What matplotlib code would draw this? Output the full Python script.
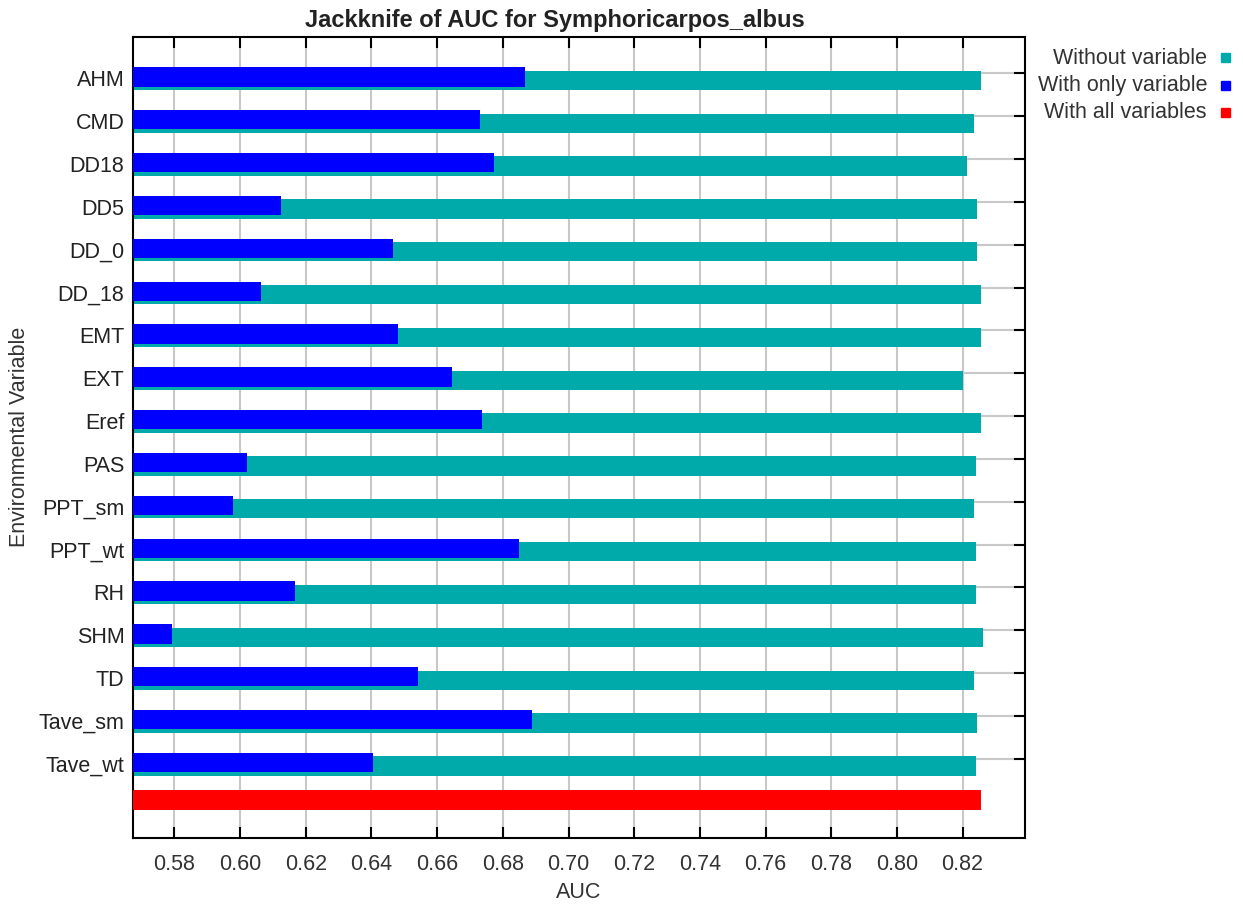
import matplotlib.pyplot as plt
import numpy as np

plt.rcParams['font.family'] = ['Liberation Sans', 'DejaVu Sans']

# Jackknife results (AUC) per environmental variable
variables = ["AHM", "CMD", "DD18", "DD5", "DD_0", "DD_18", "EMT", "EXT", "Eref",
             "PAS", "PPT_sm", "PPT_wt", "RH", "SHM", "TD", "Tave_sm", "Tave_wt"]
without_var = [0.8256, 0.8234, 0.8212, 0.8245, 0.8245, 0.8256, 0.8256, 0.8202, 0.8256,
               0.8241, 0.8234, 0.8241, 0.8241, 0.8261, 0.8234, 0.8245, 0.8241]
only_var = [0.6867, 0.6731, 0.6774, 0.6123, 0.6465, 0.6063, 0.6482, 0.6644, 0.6737,
            0.6020, 0.5977, 0.6850, 0.6167, 0.5792, 0.6541, 0.6888, 0.6405]
all_vars = 0.8256

xticks = [0.58, 0.60, 0.62, 0.64, 0.66, 0.68, 0.70, 0.72, 0.74, 0.76, 0.78, 0.80, 0.82]

teal = "#00AAAA"
blue = "#0000FF"
red = "#FF0000"

fig = plt.figure(figsize=(12.43, 9.05), dpi=100)
ax = fig.add_axes([0.1068, 0.0744, 0.7178, 0.8847])

rows = np.arange(len(variables))
bar_h = 0.45
ax.barh(rows + 0.165, without_var, height=bar_h, color=teal, zorder=2)
ax.barh(rows + 0.085, only_var, height=bar_h, color=blue, zorder=3)
ax.barh([len(variables) - 0.04], [all_vars], height=bar_h, color=red, zorder=3)

ax.set_xlim(0.5673, 0.839)
ax.set_ylim(17.84, -0.847)

ax.set_xticks(xticks)
ax.set_xticklabels([f"{t:.2f}" for t in xticks])
ax.set_yticks(rows)
ax.set_yticks(rows + 0.11, minor=True)
ax.set_yticklabels([], minor=False)
ax.set_yticklabels(variables, minor=True)

ax.grid(True, which="major", color="#c8c8c8", linewidth=1.5, zorder=0)
ax.set_axisbelow(True)

ax.tick_params(axis="x", which="major", direction="in", length=8, width=1.5,
               top=True, bottom=True, labelsize=15.5, pad=12, colors="black",
               labelcolor="#333333")
ax.tick_params(axis="y", which="major", direction="in", length=8, width=1.5,
               left=False, right=True, labelleft=False)
ax.tick_params(axis="y", which="minor", length=0, left=False, right=False,
               labelleft=True, labelsize=15.5, pad=6, labelcolor="#222222")

for s in ax.spines.values():
    s.set_linewidth(1.5)
    s.set_color("black")

ax.set_xlabel("AUC", fontsize=15.5, color="#333333", labelpad=5)
ax.set_ylabel("Environmental Variable", fontsize=15.5, color="#333333", labelpad=6)
ax.set_title("Jackknife of AUC for Symphoricarpos_albus", fontsize=17,
             fontweight="bold", color="#222222", pad=7, x=0.473)

# legend drawn as right-aligned labels with square swatches
legend_items = [("Without variable", teal), ("With only variable", blue),
                ("With all variables", red)]
for k, (label, col) in enumerate(legend_items):
    yy = 1 - (58 + 27.5 * k) / 905
    fig.text(1207 / 1243, yy, label, ha="right", va="center", fontsize=15.5,
             color="#333333")
    fig.patches.append(plt.Rectangle((1221 / 1243, yy - 4.5 / 905), 9 / 1243, 9 / 905,
                                     transform=fig.transFigure, color=col,
                                     figure=fig))

fig.savefig("out.png", dpi=100)
